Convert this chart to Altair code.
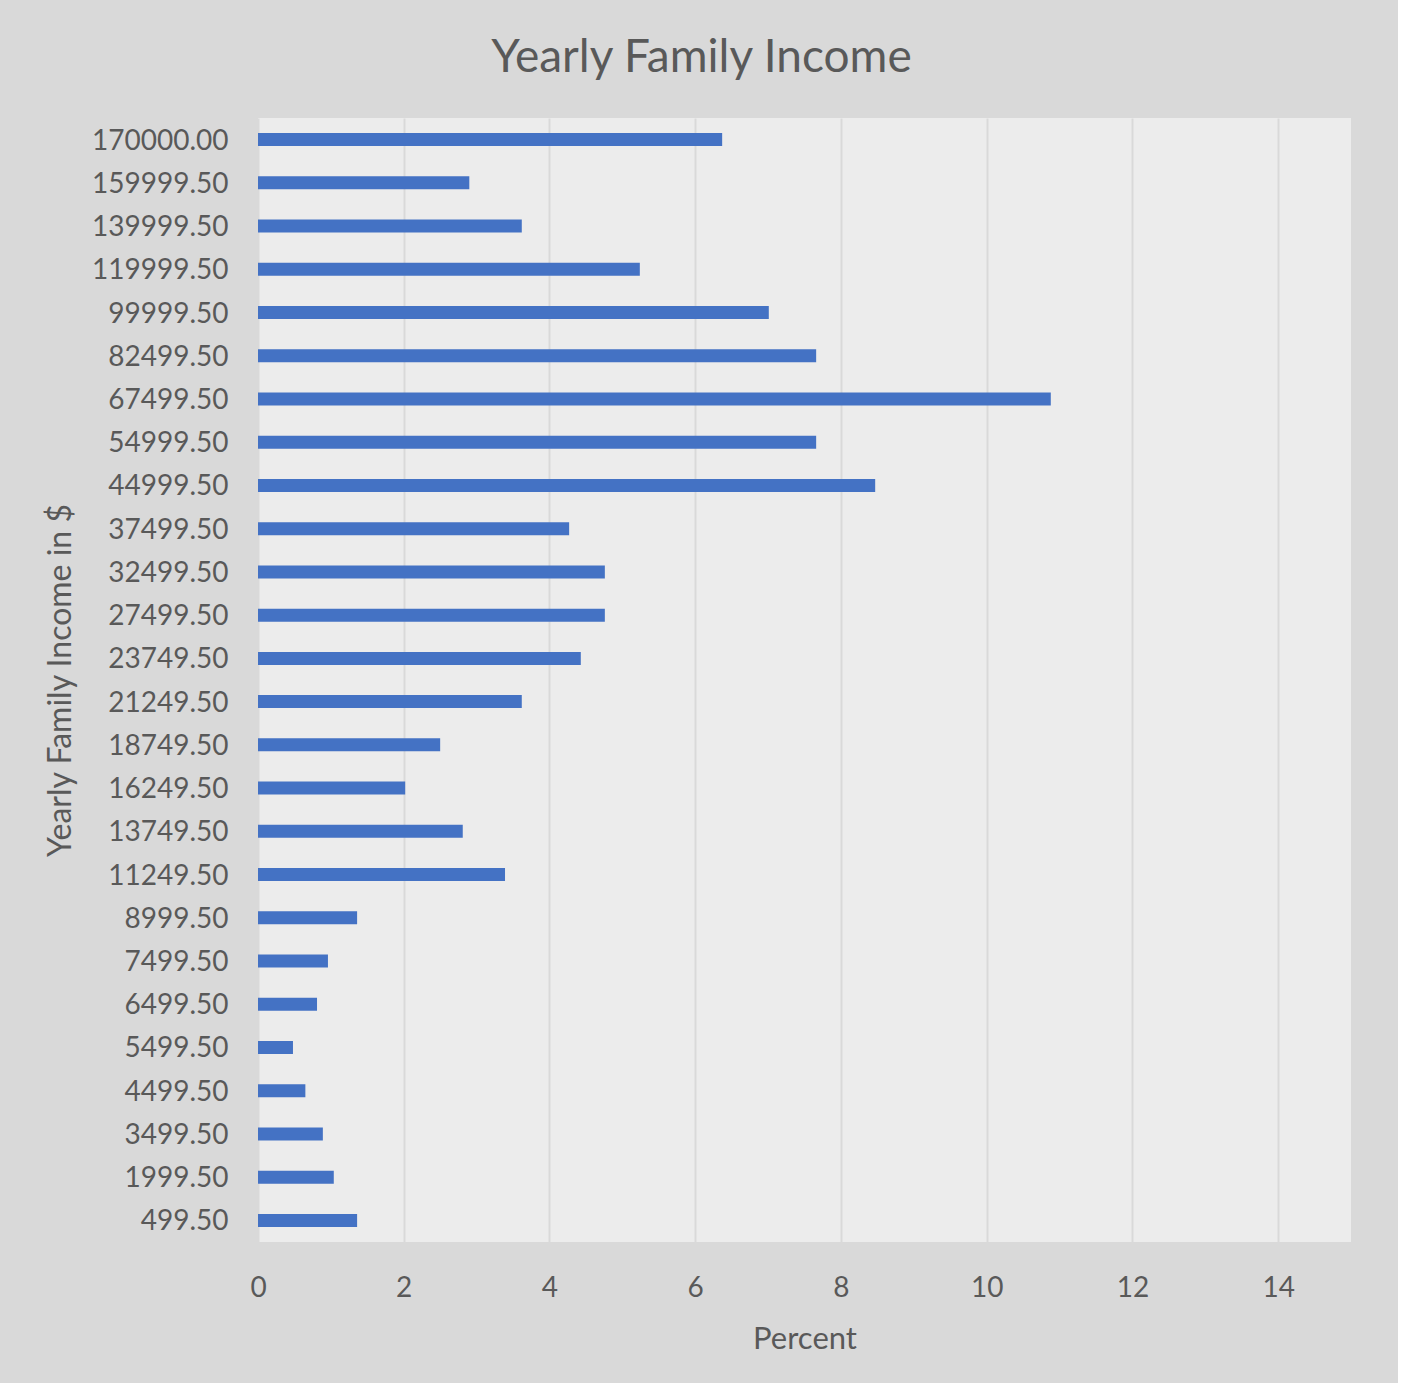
import altair as alt
import pandas as pd

categories = ["170000.00", "159999.50", "139999.50", "119999.50", "99999.50", "82499.50",
              "67499.50", "54999.50", "44999.50", "37499.50", "32499.50", "27499.50",
              "23749.50", "21249.50", "18749.50", "16249.50", "13749.50", "11249.50",
              "8999.50", "7499.50", "6499.50", "5499.50", "4499.50", "3499.50",
              "1999.50", "499.50"]
percents = [6.37, 2.90, 3.62, 5.24, 7.01, 7.66,
            10.88, 7.66, 8.47, 4.27, 4.76, 4.76,
            4.43, 3.62, 2.50, 2.02, 2.81, 3.39,
            1.36, 0.96, 0.81, 0.48, 0.65, 0.89,
            1.04, 1.36]
x_ticks = [0, 2, 4, 6, 8, 10, 12, 14]

df = pd.DataFrame({"income": categories, "percent": percents})

FONT = "Lato"
TXT = "#595959"

chart = alt.Chart(df).mark_bar(color="#4472c4", size=13).encode(
    x=alt.X("percent:Q", title="Percent",
            scale=alt.Scale(domain=[0, 15], nice=False),
            axis=alt.Axis(values=x_ticks, format="d", grid=True, gridColor="#d9d9d9",
                          gridWidth=2, domain=False, ticks=False, labelFlush=False,
                          labelFontSize=28, labelColor=TXT, labelFont=FONT,
                          labelPadding=32, titleFontSize=31, titleColor=TXT,
                          titleFont=FONT, titleFontWeight="normal", titlePadding=22)),
    y=alt.Y("income:N", sort=categories, title="Yearly Family Income in $",
            scale=alt.Scale(paddingInner=0.7, paddingOuter=0.35),
            axis=alt.Axis(grid=False, domain=False, ticks=False,
                          labelFontSize=28, labelColor=TXT, labelFont=FONT,
                          labelPadding=30, labelBaseline="middle", labelOffset=2,
                          titleFontSize=32, titleColor=TXT,
                          titleFont=FONT, titleFontWeight="normal", titlePadding=14)),
).properties(
    width=1093,
    height=1124,
    background="#d9d9d9",
    autosize=alt.AutoSizeParams(type="none"),
    padding={"left": 258, "top": 118, "right": 47, "bottom": 141},
    title=alt.TitleParams("Yearly Family Income", fontSize=46, font=FONT, color=TXT,
                          fontWeight="normal", anchor="middle", dx=-103, offset=36),
).configure_view(
    fill="#ececec", stroke=None
)

chart.save("out.html", embed_options={"renderer": "svg", "actions": False})
